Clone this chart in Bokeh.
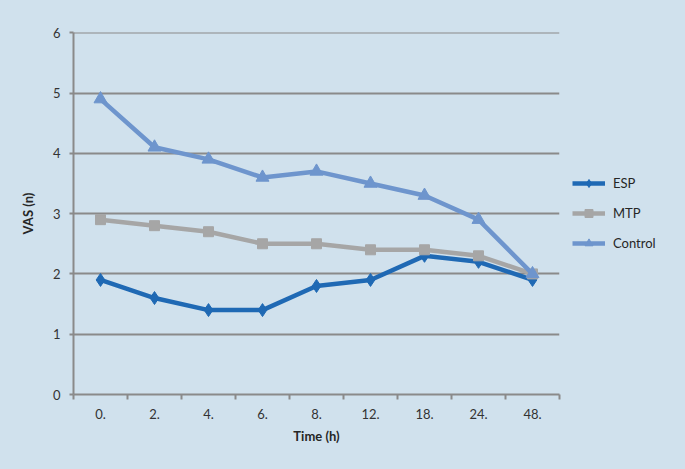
from bokeh.plotting import figure
from bokeh.models import Range1d, FixedTicker, Legend, LegendItem, ColumnDataSource
from bokeh.embed import file_html
from bokeh.resources import INLINE

categories = ["0.", "2.", "4.", "6.", "8.", "12.", "18.", "24.", "48."]
esp = [1.9, 1.6, 1.4, 1.4, 1.8, 1.9, 2.3, 2.2, 1.9]
mtp = [2.9, 2.8, 2.7, 2.5, 2.5, 2.4, 2.4, 2.3, 2.0]
control = [4.9, 4.1, 3.9, 3.6, 3.7, 3.5, 3.3, 2.9, 2.0]
y_ticks = [0, 1, 2, 3, 4, 5, 6]

BG = "#d0e1ed"
FONT = "Lato"
GRID = "#8a8a8a"

xpos = [i + 0.5 for i in range(len(categories))]

p = figure(frame_width=486, frame_height=362, output_backend="svg", toolbar_location=None,
           x_range=Range1d(0, len(categories)), y_range=Range1d(0, 6.004),
           min_border_left=73, min_border_right=0, min_border_top=32, min_border_bottom=67,
           background_fill_color=BG, border_fill_color=BG, outline_line_color=None)

src = ColumnDataSource(dict(x=xpos, esp=esp, mtp=mtp, control=control))

c_esp, c_mtp, c_ctl = "#1f69b4", "#a6a6a6", "#6e95cd"
l1 = p.line("x", "esp", source=src, line_color=c_esp, line_width=4.5)
m1 = p.scatter("x", "esp", source=src, marker="diamond", size=13, fill_color=c_esp, line_color=c_esp)
l2 = p.line("x", "mtp", source=src, line_color=c_mtp, line_width=4.5)
m2 = p.scatter("x", "mtp", source=src, marker="square", size=10, fill_color=c_mtp, line_color=c_mtp)
l3 = p.line("x", "control", source=src, line_color=c_ctl, line_width=4.5)
m3 = p.scatter("x", "control", source=src, marker="triangle", size=13, fill_color=c_ctl, line_color=c_ctl)

# x axis
p.xaxis.ticker = FixedTicker(ticks=xpos, minor_ticks=list(range(len(categories) + 1)))
p.xaxis.major_label_overrides = {x: c for x, c in zip(xpos, categories)}
p.xaxis.major_tick_line_color = None
p.xaxis.minor_tick_line_color = GRID
p.xaxis.minor_tick_line_width = 2
p.xaxis.minor_tick_out = 5
p.xaxis.minor_tick_in = 0
p.xaxis.axis_line_color = GRID
p.xaxis.axis_line_width = 2
p.xaxis.axis_label = "Time (h)"
p.xaxis.major_label_standoff = 8
p.xaxis.axis_label_standoff = 6

# y axis
p.yaxis.ticker = FixedTicker(ticks=y_ticks)
p.yaxis.minor_tick_line_color = None
p.yaxis.major_tick_line_color = GRID
p.yaxis.major_tick_line_width = 2
p.yaxis.major_tick_out = 4
p.yaxis.major_tick_in = 0
p.yaxis.axis_line_color = GRID
p.yaxis.axis_line_width = 2
p.yaxis.axis_label = "VAS (n)"
p.yaxis.major_label_standoff = 9
p.yaxis.axis_label_standoff = 14

for ax in (p.xaxis, p.yaxis):
    ax.major_label_text_font = FONT
    ax.major_label_text_font_size = "13px"
    ax.major_label_text_color = "#333333"
    ax.axis_label_text_font = FONT
    ax.axis_label_text_font_size = "13px"
    ax.axis_label_text_font_style = "bold"
    ax.axis_label_text_color = "#262626"

p.xgrid.grid_line_color = None
p.ygrid.ticker = FixedTicker(ticks=y_ticks)
p.ygrid.grid_line_color = GRID
p.ygrid.grid_line_width = 2

legend = Legend(items=[LegendItem(label="ESP", renderers=[l1, m1]),
                       LegendItem(label="MTP", renderers=[l2, m2]),
                       LegendItem(label="Control", renderers=[l3, m3])],
                location=(13, 141), margin=0, padding=10, spacing=10,
                glyph_width=33, glyph_height=20, label_standoff=8,
                background_fill_alpha=0, border_line_color=None,
                label_text_font=FONT, label_text_font_size="13px", label_text_color="#262626")
p.add_layout(legend, "right")
p.min_border_right = 126

html = file_html(p, INLINE)
html = html.replace("<head>", "<head><style>html,body{background:%s;}</style>" % BG, 1)
open("out.html", "w").write(html)
